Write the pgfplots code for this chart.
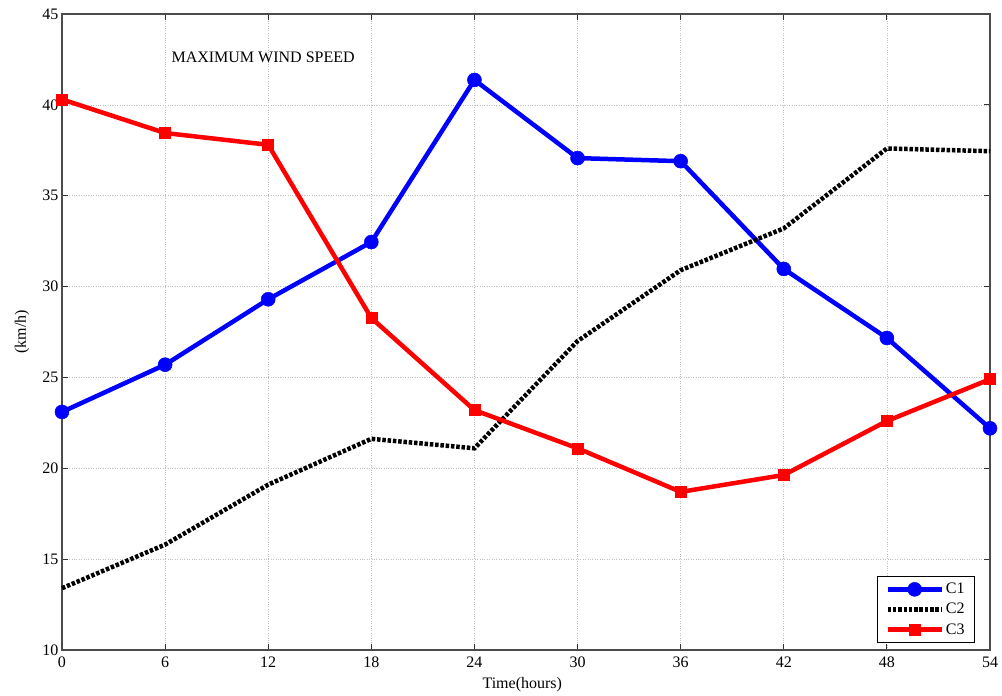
\documentclass[border=0pt]{standalone}
\usepackage{pgfplots}
\pgfplotsset{compat=1.18}
\usepackage{fontspec}
\setmainfont{Liberation Serif}
\begin{document}
\begin{tikzpicture}[x=1pt,y=1pt]
\begin{axis}[
  name=main,
  scale only axis,
  width=928pt, height=636pt,
  xmin=0, xmax=54, ymin=10, ymax=45,
  xtick={0,6,...,54}, ytick={10,15,...,45},
  grid=major,
  grid style={dotted, gray!50, line width=0.6pt},
  tick align=inside,
  axis line style={gray!60!black, line width=1.6pt},
  tick style={black!80, line width=0.8pt},
  major tick length=6pt,
  /pgf/number format/assume math mode=true,
  tick label style={font=\fontsize{16}{18}\selectfont},
  xticklabel style={yshift=-3pt},
  label style={font=\fontsize{16}{18}\selectfont},
  xlabel={Time(hours)},
  ylabel={(km/h)},
  xlabel style={at={(axis description cs:0.496,-0.055)}, anchor=center},
  ylabel style={at={(axis description cs:-0.0431,0.5)}, anchor=center},
  legend style={at={(axis cs:54,10)}, anchor=south east, xshift=-15pt, yshift=7pt,
    font=\fontsize{16}{18}\selectfont, draw=black, line width=0.8pt, inner xsep=8pt, inner ysep=5pt, row sep=4pt, legend cell align=left},
  legend image code/.code={\draw[#1] (0pt,0pt) -- (54pt,0pt) plot coordinates {(27pt,0pt)};},
  clip=false,
]
\addplot[blue, line width=4.5pt, mark=*, mark size=7pt, mark options={solid, line width=0.5pt}] coordinates {
(0,23.1) (6,25.7) (12,29.3) (18,32.45) (24,41.37) (30,37.07) (36,36.9) (42,30.97) (48,27.17) (54,22.2)};
\addlegendentry{C1}
\addplot[black, line width=4.5pt, dash pattern=on 3.5pt off 1.8pt] coordinates {
(0,13.4) (6,15.8) (12,19.1) (18,21.62) (24,21.1) (30,27.0) (36,30.9) (42,33.2) (48,37.6) (54,37.45)};
\addlegendentry{C2}
\addplot[red, line width=4.5pt, mark=square*, mark size=5.5pt, mark options={solid, line width=0.5pt}] coordinates {
(0,40.3) (6,38.45) (12,37.8) (18,28.27) (24,23.2) (30,21.1) (36,18.7) (42,19.63) (48,22.6) (54,24.9)};
\addlegendentry{C3}
\node[font=\fontsize{16}{18}\selectfont, anchor=west] at (axis cs:6.17,42.63) {MAXIMUM WIND SPEED};
\end{axis}
\path (main.south west) ++(-62pt,-45pt) rectangle ++(1002pt,695pt);
\end{tikzpicture}
\end{document}
